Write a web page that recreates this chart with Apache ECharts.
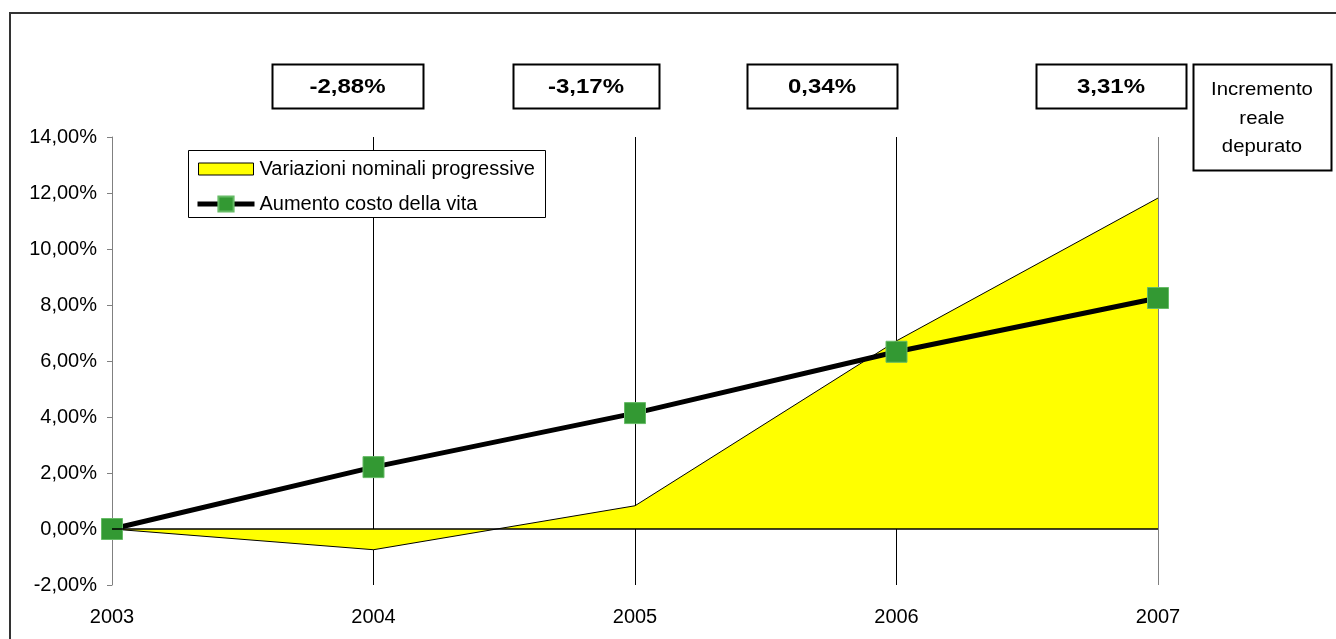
<!DOCTYPE html>
<html>
<head>
<meta charset="utf-8">
<script src="https://cdn.jsdelivr.net/npm/echarts@6/dist/echarts.min.js"></script>
<style>
  html, body { margin: 0; padding: 0; background: #ffffff; }
  #chart { width: 1336px; height: 639px; }
</style>
</head>
<body>
<div id="chart"></div>
<script>
// Years on the category axis
const years = ['2003', '2004', '2005', '2006', '2007'];
// Cumulative nominal change (%), drawn as the yellow area
const nominalChange = [0, -0.74, 0.83, 6.72, 11.82];
// Cumulative cost-of-living increase (%), drawn as the black line
const livingCost = [0, 2.21, 4.14, 6.33, 8.25];
// Real increment net of inflation, one box per year from 2004
const realIncrement = ['-2,88%', '-3,17%', '0,34%', '3,31%'];
const realIncrementTitle = ['Incremento', 'reale', 'depurato'];
// Value axis range (%)
const yMin = -2, yMax = 14, yStep = 2;

const FONT = '"Liberation Sans", Arial, Helvetica, sans-serif';

// Box geometry for the real-increment labels: [left, width]
const boxLayout = [[272, 151], [513, 146], [747, 150], [1036, 150]];
const boxTop = 64, boxHeight = 44;

const chart = echarts.init(document.getElementById('chart'), null, { renderer: 'canvas' });

const graphics = [
  // outer chart frame (right and bottom edges fall outside the canvas)
  { type: 'rect', shape: { x: 10, y: 13, width: 1400, height: 700 },
    style: { fill: 'none', stroke: '#333333', lineWidth: 2 }, z: 0, silent: true },
  // legend frame
  { type: 'rect', shape: { x: 188.5, y: 150.5, width: 357, height: 67 },
    style: { fill: '#ffffff', stroke: '#000000', lineWidth: 1 }, z: 5, silent: true }
];

realIncrement.forEach(function (txt, i) {
  const [left, w] = boxLayout[i];
  graphics.push({
    type: 'rect', shape: { x: left + 0.5, y: boxTop + 0.5, width: w, height: boxHeight },
    style: { fill: '#ffffff', stroke: '#000000', lineWidth: 2 }, z: 5, silent: true
  });
  graphics.push({
    type: 'text', x: left + w / 2, y: boxTop + boxHeight / 2 + 1, scaleX: 1.2,
    style: { text: txt, fill: '#000000', font: 'bold 20px ' + FONT, align: 'center', verticalAlign: 'middle' },
    z: 6, silent: true
  });
});

graphics.push({
  type: 'rect', shape: { x: 1193.5, y: 64.5, width: 138, height: 106 },
  style: { fill: '#ffffff', stroke: '#000000', lineWidth: 2 }, z: 5, silent: true
});
realIncrementTitle.forEach(function (line, i) {
  graphics.push({
    type: 'text', x: 1262, y: 90 + i * 28.5, scaleX: 1.1,
    style: { text: line, fill: '#000000', font: '18.5px ' + FONT, align: 'center', verticalAlign: 'middle' },
    z: 6, silent: true
  });
});

const fmtPct = v => v.toFixed(2).replace('.', ',') + '%';

chart.setOption({
  animation: false,
  backgroundColor: '#ffffff',
  textStyle: { fontFamily: FONT },
  grid: { left: 112, right: 178, top: 137, bottom: 54, containLabel: false },
  legend: {
    orient: 'vertical',
    left: 195, top: 159,
    padding: 0,
    itemWidth: 57, itemHeight: 19, itemGap: 15,
    textStyle: { fontSize: 20, color: '#000000', fontFamily: FONT },
    z: 7,
    data: [
      { name: 'Variazioni nominali progressive',
        icon: 'path://M0,0M57,19M1,3.5L56,3.5L56,15.5L1,15.5Z',
        itemStyle: { color: '#ffff00', borderColor: '#000000', borderWidth: 1 } },
      { name: 'Aumento costo della vita',
        lineStyle: { color: '#000000', width: 5 } }
    ]
  },
  xAxis: {
    type: 'category',
    data: years,
    boundaryGap: false,
    axisLine: { show: false },
    axisTick: { show: false },
    axisLabel: { fontSize: 20, color: '#000000', margin: 22, fontFamily: FONT },
    splitLine: {
      show: true,
      lineStyle: { color: ['#808080', '#000000', '#000000', '#000000', '#808080'], width: 1 }
    }
  },
  yAxis: {
    type: 'value',
    min: yMin, max: yMax, interval: yStep,
    axisLine: { show: true, lineStyle: { color: '#808080', width: 1 } },
    axisTick: { show: true, length: 5, lineStyle: { color: '#808080' } },
    axisLabel: { fontSize: 20, color: '#000000', margin: 15, fontFamily: FONT, formatter: fmtPct },
    splitLine: { show: false }
  },
  series: [
    {
      name: 'Variazioni nominali progressive',
      type: 'line',
      data: nominalChange,
      symbol: 'none',
      itemStyle: { color: '#ffff00' },
      lineStyle: { color: '#000000', width: 1 },
      areaStyle: { color: '#ffff00', opacity: 1 },
      z: 2,
      markLine: {
        silent: true,
        symbol: ['none', 'none'],
        label: { show: false },
        lineStyle: { color: '#000000', width: 1.5, type: 'solid' },
        data: [{ yAxis: 0 }]
      }
    },
    {
      name: 'Aumento costo della vita',
      type: 'line',
      data: livingCost,
      symbol: 'rect',
      symbolSize: 21,
      itemStyle: { color: '#339933', borderColor: '#66bb66', borderWidth: 1 },
      lineStyle: { color: '#000000', width: 5 },
      z: 4
    }
  ],
  graphic: graphics
});
</script>
</body>
</html>
